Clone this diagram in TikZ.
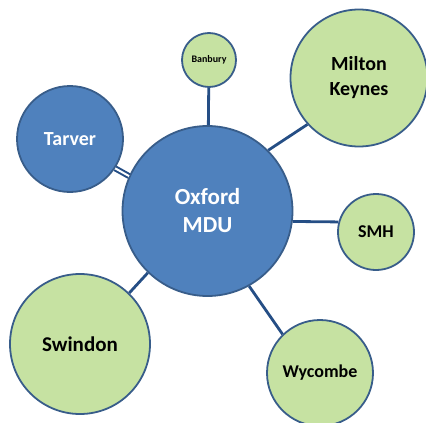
\documentclass[tikz,border=0pt]{standalone}
\usepackage{fontspec}
\setmainfont{Carlito}

\definecolor{hubblue}{HTML}{4F81BD}
\definecolor{rimblue}{HTML}{385D8A}
\definecolor{sitegreen}{HTML}{C6E2A2}
\definecolor{linkblue}{HTML}{254E85}

\begin{document}
\begin{tikzpicture}[x=1pt, y=-1pt,
  hub/.style={circle, draw=rimblue, line width=1.8pt, fill=hubblue, text=white, font=\bfseries, align=center, inner sep=0pt},
  site/.style={circle, draw=rimblue, line width=1.8pt, fill=sitegreen, text=black, font=\bfseries, align=center, inner sep=0pt},
  link/.style={draw=linkblue, line width=2.8pt}]
\useasboundingbox (0,0) rectangle (426,423);

  % centre
  \node[hub, minimum size=170pt, font=\bfseries\fontsize{23}{28}\selectfont] (oxford) at (207.5,211) {Oxford\\MDU};

  % other sites
  \node[hub, minimum size=106pt, font=\bfseries\fontsize{20}{24}\selectfont] (tarver) at (70,139) {Tarver};
  \node[site, minimum size=54pt, font=\bfseries\fontsize{10}{12}\selectfont] (banbury) at (209,60) {Banbury};
  \node[site, minimum size=137pt, font=\bfseries\fontsize{20}{25}\selectfont] (mk) at (359,78) {Milton\\Keynes};
  \node[site, minimum size=76pt, font=\bfseries\fontsize{18}{22}\selectfont] (smh) at (376,232) {SMH};
  \node[site, minimum size=140pt, font=\bfseries\fontsize{21}{25}\selectfont] (swindon) at (80,344) {Swindon};
  \node[site, minimum size=106pt, font=\bfseries\fontsize{18}{22}\selectfont] (wycombe) at (320,373) {Wycombe};

  % links
  \draw[link, line width=2pt, double=white, double distance=2pt] (oxford.156) -- (tarver.-33);
  \draw[link] (oxford) -- (banbury);
  \draw[link] (oxford.45) -- (mk.222);
  \draw[link] (oxford.-7) -- (smh.165);
  \draw[link] (oxford.226) -- (swindon.46);
  \draw[link] (oxford.-61) -- (wycombe.134);
\end{tikzpicture}
\end{document}
